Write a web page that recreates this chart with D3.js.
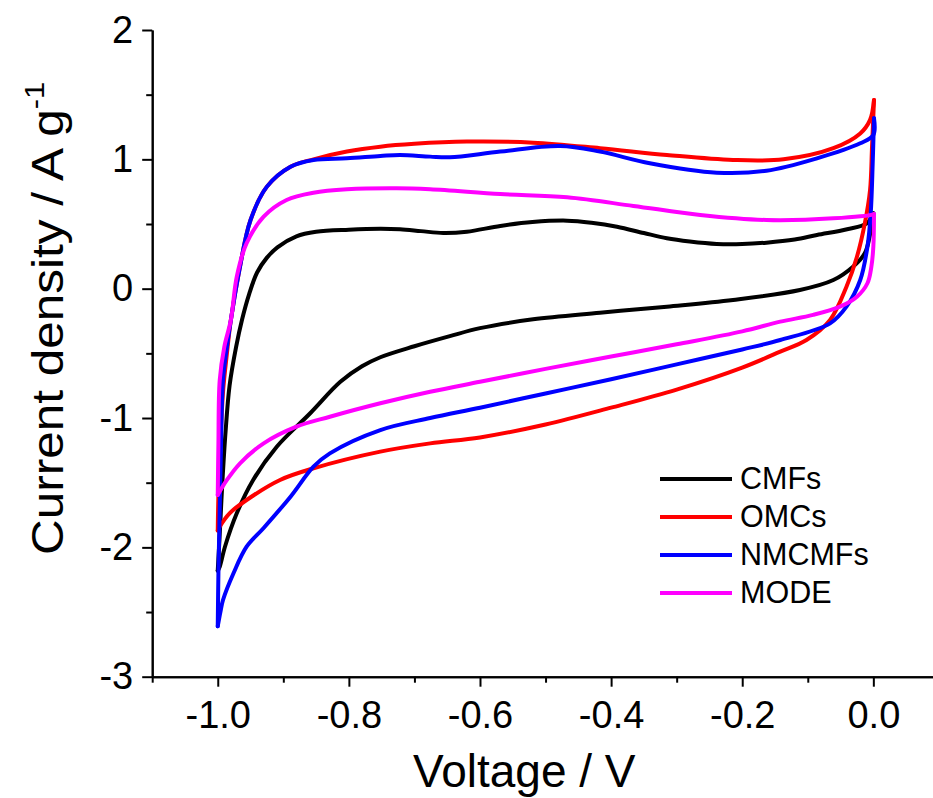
<!DOCTYPE html>
<html>
<head>
<meta charset="utf-8">
<title>CV curves</title>
<style>
  body { margin: 0; background: #fff; }
  svg { display: block; font-family: "Liberation Sans", Arial, sans-serif; }
  .axis path, .axis line { stroke: #000; stroke-width: 2px; }
  .axis text { font-size: 38px; fill: #000; }
  .curve { fill: none; stroke-width: 4px; stroke-linecap: round; stroke-linejoin: round; }
</style>
</head>
<body>
<script src="https://d3js.org/d3.v7.min.js"></script>
<script>

var width = 933, height = 798;

// tick values
var xMajor = [-1.0, -0.8, -0.6, -0.4, -0.2, 0.0];
var xMinor = [-1.1, -0.9, -0.7, -0.5, -0.3, -0.1, 0.1];
var yMajor = [-3, -2, -1, 0, 1, 2];
var yMinor = [-2.5, -1.5, -0.5, 0.5, 1.5];

var seriesNames = ["CMFs", "OMCs", "NMCMFs", "MODE"];
var seriesColors = ["#000000", "#ff0000", "#0000ff", "#ff00ff"];

// [voltage (V), current density (A/g)]
// anodic = upper branch, cathodic = lower branch (both sorted by voltage)
var cmfsAnodic = [[-1.0,-2.18],[-0.997,-1.9],[-0.993,-1.5],[-0.988,-1.1],[-0.982,-0.75],[-0.972,-0.45],
  [-0.963,-0.24],[-0.952,-0.04],[-0.94,0.125],[-0.925,0.24],[-0.909,0.32],[-0.88,0.405],[-0.85,0.44],
  [-0.8,0.456],[-0.752,0.463],[-0.722,0.459],[-0.69,0.445],[-0.656,0.43],[-0.62,0.44],[-0.569,0.485],
  [-0.52,0.515],[-0.467,0.526],[-0.43,0.51],[-0.391,0.479],[-0.35,0.43],[-0.315,0.39],[-0.28,0.365],
  [-0.239,0.346],[-0.2,0.345],[-0.163,0.356],[-0.12,0.38],[-0.086,0.415],[-0.04,0.46],[-0.01,0.505],[0.0,0.583]];
var cmfsCathodic = [[-1.0,-2.18],[-0.997,-2.15],[-0.989,-1.995],[-0.971,-1.737],[-0.946,-1.479],[-0.91,-1.222],
  [-0.859,-0.963],[-0.813,-0.72],[-0.78,-0.6],[-0.752,-0.53],[-0.7,-0.445],[-0.646,-0.367],[-0.6,-0.305],
  [-0.519,-0.237],[-0.417,-0.186],[-0.315,-0.139],[-0.214,-0.087],[-0.112,-0.01],[-0.061,0.067],
  [-0.031,0.17],[-0.013,0.274],[-0.005,0.42],[0.0,0.583]];

var omcsAnodic = [[-1.0,-1.87],[-0.999,-1.6],[-0.996,-1.2],[-0.992,-0.8],[-0.986,-0.5],[-0.98,-0.242],
  [-0.967,0.145],[-0.95,0.531],[-0.925,0.789],[-0.889,0.943],[-0.854,1.0],[-0.803,1.06],[-0.752,1.098],
  [-0.7,1.12],[-0.62,1.137],[-0.519,1.129],[-0.417,1.086],[-0.315,1.034],[-0.214,0.995],[-0.137,1.0],
  [-0.061,1.086],[-0.02,1.2],[-0.005,1.305],[0.001,1.459]];
var omcsCathodic = [[-1.0,-1.87],[-0.997,-1.84],[-0.982,-1.737],[-0.956,-1.634],[-0.905,-1.479],[-0.854,-1.389],
  [-0.752,-1.26],[-0.676,-1.196],[-0.6,-1.15],[-0.5,-1.05],[-0.4,-0.92],[-0.3,-0.78],[-0.2,-0.61],
  [-0.142,-0.487],[-0.102,-0.397],[-0.066,-0.242],[-0.041,0.015],[-0.025,0.247],[-0.013,0.505],
  [-0.005,0.763],[-0.002,1.098],[0.001,1.459]];

var nmcmfsAnodic = [[-1.0,-2.61],[-0.999,-2.2],[-0.997,-1.7],[-0.995,-1.2],[-0.992,-0.707],[-0.986,-0.45],
  [-0.98,-0.242],[-0.967,0.145],[-0.95,0.531],[-0.925,0.789],[-0.889,0.943],[-0.854,0.995],[-0.803,1.008],
  [-0.752,1.026],[-0.722,1.034],[-0.676,1.021],[-0.646,1.016],[-0.569,1.06],[-0.478,1.103],[-0.417,1.06],
  [-0.341,0.97],[-0.239,0.897],[-0.163,0.912],[-0.086,1.008],[-0.02,1.124],[0.0,1.188],[0.001,1.317]];
var nmcmfsCathodic = [[-1.0,-2.61],[-0.996,-2.5],[-0.992,-2.407],[-0.976,-2.2],[-0.956,-1.995],[-0.93,-1.85],
  [-0.889,-1.608],[-0.854,-1.376],[-0.829,-1.273],[-0.752,-1.093],[-0.676,-1.0],[-0.6,-0.92],[-0.5,-0.81],
  [-0.4,-0.7],[-0.3,-0.585],[-0.2,-0.47],[-0.142,-0.397],[-0.066,-0.268],[-0.041,-0.139],[-0.02,0.067],
  [-0.009,0.325],[-0.004,0.583],[-0.001,0.97],[0.001,1.317]];

var modeAnodic = [[-1.0,-1.595],[-0.999,-1.2],[-0.997,-0.707],[-0.99,-0.45],[-0.98,-0.242],[-0.971,0.093],
  [-0.956,0.351],[-0.93,0.557],[-0.895,0.686],[-0.854,0.742],[-0.803,0.768],[-0.727,0.776],[-0.676,0.768],
  [-0.569,0.732],[-0.467,0.706],[-0.366,0.64],[-0.264,0.57],[-0.163,0.531],[-0.061,0.544],[0.0,0.575],[0.001,0.578]];
var modeCathodic = [[-1.0,-1.595],[-0.986,-1.479],[-0.966,-1.35],[-0.93,-1.196],[-0.88,-1.067],[-0.829,-0.99],
  [-0.752,-0.886],[-0.676,-0.797],[-0.6,-0.72],[-0.5,-0.62],[-0.4,-0.525],[-0.3,-0.43],[-0.2,-0.33],
  [-0.142,-0.255],[-0.092,-0.203],[-0.051,-0.139],[-0.025,-0.062],[-0.009,0.042],[-0.003,0.17],
  [0.0,0.325],[0.001,0.578]];

var branches = [
  [cmfsAnodic, cmfsCathodic],
  [omcsAnodic, omcsCathodic],
  [nmcmfsAnodic, nmcmfsCathodic],
  [modeAnodic, modeCathodic]
];

var x = d3.scaleLinear().domain([-1.1, 0.1]).range([152.2, 938.9]);
var y = d3.scaleLinear().domain([-3, 2]).range([676.7, 30]);

var svg = d3.select("body").append("svg")
    .attr("width", width)
    .attr("height", height);

// curves
var line = d3.line()
    .x(function(d) { return x(d[0]); })
    .y(function(d) { return y(d[1]); })
    .curve(d3.curveCatmullRom.alpha(0.5));

branches.forEach(function(b, i) {
  b.forEach(function(pts) {
    svg.append("path")
      .datum(pts)
      .attr("class", "curve")
      .attr("stroke", seriesColors[i])
      .attr("d", line);
  });
});

// axes
var fmtX = function(d) { return d.toFixed(1); };

svg.append("g").attr("class", "axis")
    .attr("transform", "translate(0," + y(-3) + ")")
    .call(d3.axisBottom(x).tickValues(xMinor).tickSize(6).tickSizeOuter(0).tickFormat(""));
svg.append("g").attr("class", "axis")
    .attr("transform", "translate(0," + y(-3) + ")")
    .call(d3.axisBottom(x).tickValues(xMajor).tickSize(10).tickSizeOuter(0).tickPadding(14).tickFormat(fmtX));

svg.append("g").attr("class", "axis")
    .attr("transform", "translate(" + x(-1.1) + ",0)")
    .call(d3.axisLeft(y).tickValues(yMinor).tickSize(6).tickSizeOuter(0).tickFormat(""));
svg.append("g").attr("class", "axis")
    .attr("transform", "translate(" + x(-1.1) + ",0)")
    .call(d3.axisLeft(y).tickValues(yMajor).tickSize(10).tickSizeOuter(0).tickPadding(9).tickFormat(function(d) { return String(d); }));

svg.selectAll(".axis text").attr("font-family", "Liberation Sans, Arial, sans-serif");

// axis titles
svg.append("text")
    .attr("x", 413).attr("y", 787)
    .attr("font-size", 46)
    .text("Voltage / V");

var yTitle = svg.append("text")
    .attr("transform", "translate(63,555) rotate(-90) scale(1.1,1)")
    .attr("font-size", 45);
yTitle.append("tspan").text("Current density / A g");
yTitle.append("tspan").attr("font-size", 28).attr("dy", -19).text("-1");

// legend
var legend = svg.append("g").attr("transform", "translate(660,479)");
seriesNames.forEach(function(name, i) {
  var row = legend.append("g").attr("transform", "translate(0," + (i * 38) + ")");
  row.append("line")
    .attr("x1", 0).attr("x2", 72)
    .attr("stroke", seriesColors[i]).attr("stroke-width", 4);
  row.append("text")
    .attr("x", 80).attr("y", 10)
    .attr("font-size", 30.5)
    .text(name);
});

</script>
</body>
</html>
